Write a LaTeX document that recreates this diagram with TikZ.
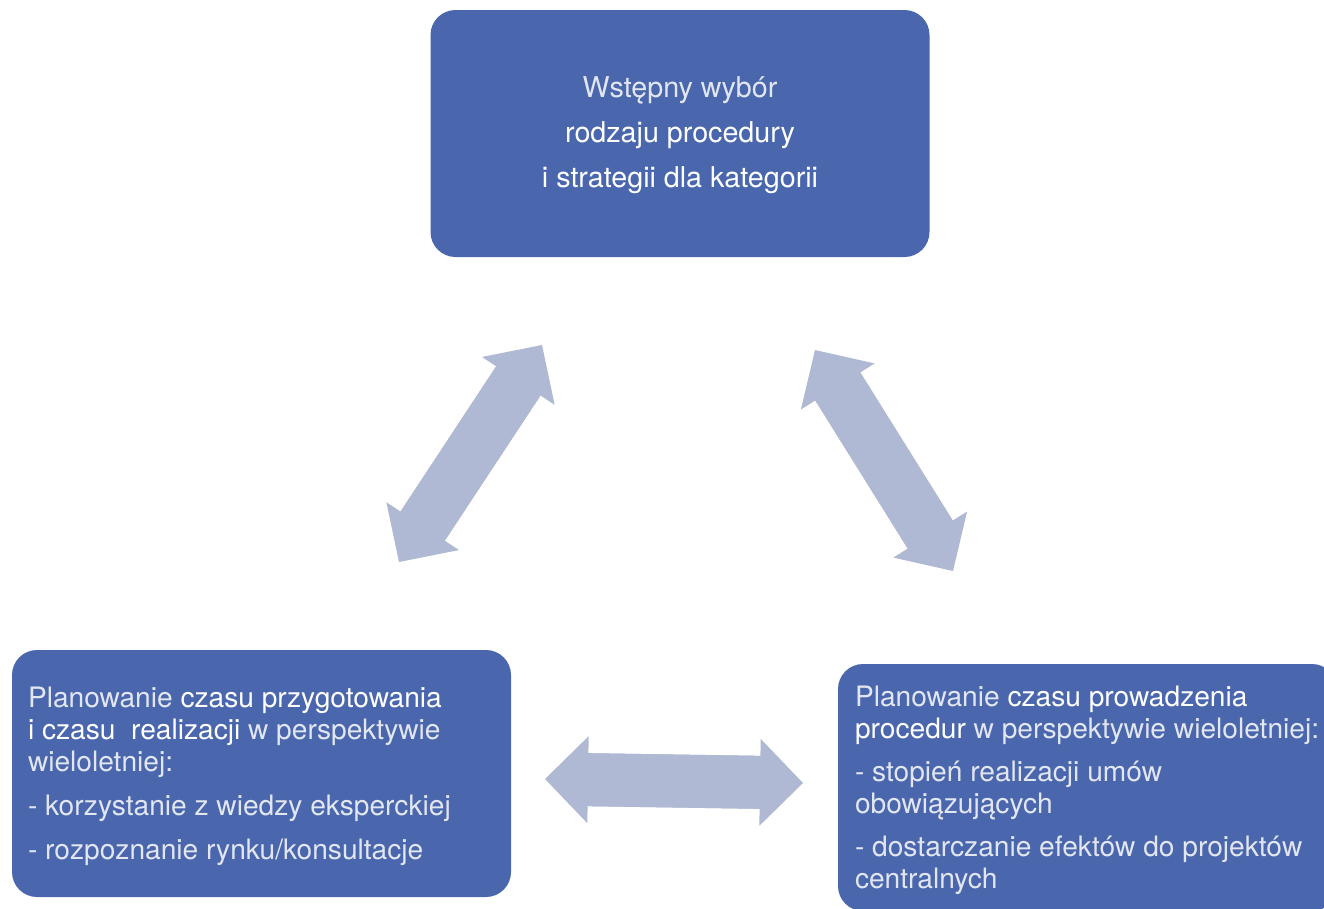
\documentclass[tikz,border=0pt]{standalone}
\usepackage{fontspec}
\setmainfont{TeX Gyre Heros}
\usetikzlibrary{arrows.meta}
\definecolor{boxblue}{RGB}{74,103,174}
\definecolor{arrowgrey}{RGB}{176,185,211}
\definecolor{softwhite}{RGB}{226,230,241}
\newcommand\hl[1]{\textcolor{white}{#1}}
\tikzset{
  panel/.style={fill=boxblue, draw=none, rounded corners=18.75pt,
    minimum width=374.25pt, minimum height=185.25pt, inner sep=0pt},
  paneltext/.style={text=softwhite, align=left, inner sep=0pt,
    font=\fontsize{21.1}{24}\selectfont},
  toptext/.style={text=softwhite, align=center, inner sep=0pt,
    font=\fontsize{21.5}{33.75}\selectfont},
  bigtip/.tip={Triangle[length={32.25pt 0 0}, width={65.25pt 0 0}, line width={0pt 0 0}]},
  link/.style={draw=arrowgrey, line width=39.75pt, bigtip-bigtip,
    preaction={draw=arrowgrey, arrows=-, line width=39.75pt,
      shorten >=26pt, shorten <=26pt}}
}
\begin{document}
\begin{tikzpicture}[x=0.75pt, y=-0.75pt]
\useasboundingbox (0,0) rectangle (1324,908);
\clip (0,0) rectangle (1324,908);

% three panels
\node[panel] (top)   at (680,133.5)   {};
\node[panel] (left)  at (261.5,773.5) {};
\node[panel] (right) at (1087.5,787.5) {};

\node[toptext] (toplbl) at ([yshift=-1.5pt]top.center)
  {Wstępny wybór\\ \hl{rodzaju procedury}\\ \hl{i strategii dla kategorii}};

\node[paneltext, anchor=west] (leftlbl) at ([xshift=12pt, yshift=-2pt]left.west)
  {Planowanie \hl{czasu przygotowania}\\
   \hl{i czasu\ \ realizacji} w perspektywie\\
   wieloletniej:\\[9.5pt]
   - korzystanie z wiedzy eksperckiej\\[9pt]
   - rozpoznanie rynku/konsultacje};

\node[paneltext, anchor=west] (rightlbl) at ([xshift=12.75pt, yshift=-2pt]right.west)
  {Planowanie \hl{czasu prowadzenia}\\
   \hl{procedur} w perspektywie wieloletniej:\\[8pt]
   - stopień realizacji umów\\
   obowiązujących\\[8pt]
   - dostarczanie efektów do projektów\\
   centralnych};

% double-headed connectors between the panels
\coordinate (lA) at (399,562);
\coordinate (lB) at (542,345);
\coordinate (rA) at (815,350);
\coordinate (rB) at (953,571);
\coordinate (hA) at (545,779);
\coordinate (hB) at (803,783);
\draw[link] (lA) -- (lB);
\draw[link] (rA) -- (rB);
\draw[link] (hA) -- (hB);
\end{tikzpicture}
\end{document}
